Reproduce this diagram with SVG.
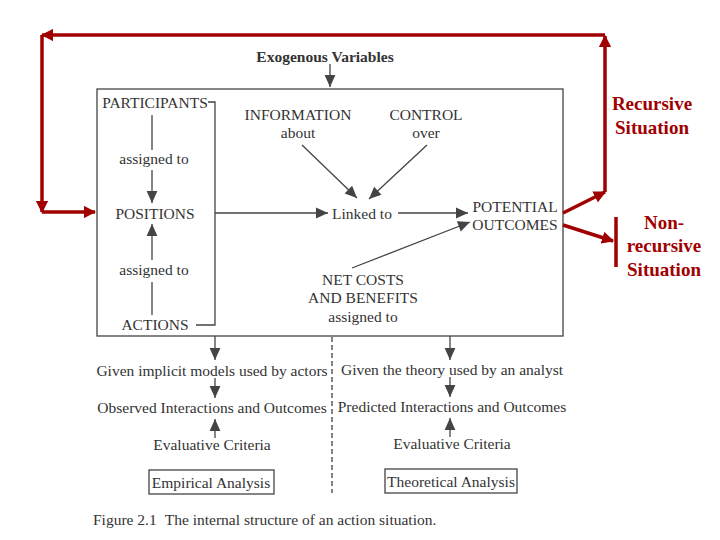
<svg xmlns="http://www.w3.org/2000/svg" width="720" height="540" viewBox="0 0 720 540">
<style>
.t{font-family:"Liberation Serif","Times New Roman",serif;font-size:15.5px;fill:#333;text-anchor:middle}
.b{font-weight:bold}
.r{font-family:"Liberation Serif","Times New Roman",serif;font-size:19px;font-weight:bold;fill:#a00000;text-anchor:middle}
.ln{stroke:#444;stroke-width:1.3;fill:none}
.rd{stroke:#a00000;stroke-width:3.5;fill:none}
</style>
<defs>
<marker id="ahL" viewBox="0 0 10 10" refX="10" refY="5" markerWidth="18" markerHeight="12" markerUnits="userSpaceOnUse" orient="auto"><path d="M0,0.5 L10,5 L0,9.5 z" fill="#444"/></marker>
<marker id="ra" viewBox="0 0 10 10" refX="9" refY="5" markerWidth="3.5" markerHeight="3.5" orient="auto"><path d="M0,0 L10,5 L0,10 z" fill="#a00000"/></marker>
</defs>
<rect width="720" height="540" fill="#fff"/>
<g id="frame"><rect x="97" y="89" width="466" height="247" class="ln"/></g>
<g id="exogenous"><text x="325" y="62" class="t b">Exogenous Variables</text></g>
<g id="participants"><text x="155" y="108" class="t">PARTICIPANTS</text></g>
<g id="positions"><text x="155" y="219" class="t">POSITIONS</text></g>
<g id="actions"><text x="155" y="330" class="t">ACTIONS</text></g>
<g id="assigned1"><text x="154" y="164" class="t">assigned to</text></g>
<g id="assigned2"><text x="154" y="275" class="t">assigned to</text></g>
<g id="information"><text x="298" y="120" class="t">INFORMATION</text><text x="298" y="138" class="t">about</text></g>
<g id="control"><text x="426" y="120" class="t">CONTROL</text><text x="426" y="138" class="t">over</text></g>
<g id="linked"><text x="362" y="219" class="t">Linked to</text></g>
<g id="outcomes"><text x="515" y="212" class="t">POTENTIAL</text><text x="515" y="230" class="t">OUTCOMES</text></g>
<g id="netcosts"><text x="363" y="285" class="t">NET COSTS</text><text x="363" y="303" class="t">AND BENEFITS</text><text x="363" y="322" class="t">assigned to</text></g>
<g id="implicit"><text x="212" y="376" class="t">Given implicit models used by actors</text></g>
<g id="observed"><text x="212" y="413" class="t">Observed Interactions and Outcomes</text></g>
<g id="evalL"><text x="212" y="450" class="t">Evaluative Criteria</text></g>
<g id="empirical"><rect x="149" y="470" width="125" height="24" class="ln"/><text x="211" y="488" class="t">Empirical Analysis</text></g>
<g id="theory"><text x="452" y="375" class="t">Given the theory used by an analyst</text></g>
<g id="predicted"><text x="452" y="412" class="t">Predicted Interactions and Outcomes</text></g>
<g id="evalR"><text x="452" y="449" class="t">Evaluative Criteria</text></g>
<g id="theoretical"><rect x="385" y="469" width="132" height="24" class="ln"/><text x="451" y="487" class="t">Theoretical Analysis</text></g>
<g id="caption"><text x="93" y="525" class="t" style="text-anchor:start">Figure 2.1<tspan dx="8">The internal structure of an action situation.</tspan></text></g>
<g id="recursive"><text x="652" y="110" class="r">Recursive</text><text x="652" y="134" class="r">Situation</text></g>
<g id="nonrecursive"><text x="664" y="229" class="r">Non-</text><text x="664" y="252" class="r">recursive</text><text x="664" y="276" class="r">Situation</text></g>
<g id="connectors">
<line x1="330" y1="64" x2="330" y2="87" class="ln" marker-end="url(#ahL)"/>
<polyline points="208,102 215,102 215,325 196,325" class="ln"/>
<line x1="152" y1="115" x2="152" y2="150" class="ln"/>
<line x1="152" y1="170" x2="152" y2="203" class="ln" marker-end="url(#ahL)"/>
<line x1="152" y1="315" x2="152" y2="282" class="ln"/>
<line x1="152" y1="260" x2="152" y2="224" class="ln" marker-end="url(#ahL)"/>
<line x1="215" y1="213" x2="328" y2="213" class="ln" marker-end="url(#ahL)"/>
<line x1="398" y1="213" x2="468" y2="213" class="ln" marker-end="url(#ahL)"/>
<line x1="302" y1="145" x2="357" y2="198" class="ln" marker-end="url(#ahL)"/>
<line x1="427" y1="145" x2="369" y2="199" class="ln" marker-end="url(#ahL)"/>
<line x1="352" y1="268" x2="470" y2="222" class="ln" marker-end="url(#ahL)"/>
<line x1="215" y1="336" x2="215" y2="360" class="ln" marker-end="url(#ahL)"/>
<line x1="215" y1="378" x2="215" y2="398" class="ln" marker-end="url(#ahL)"/>
<line x1="215" y1="438" x2="215" y2="419" class="ln" marker-end="url(#ahL)"/>
<line x1="450" y1="336" x2="450" y2="360" class="ln" marker-end="url(#ahL)"/>
<line x1="450" y1="377" x2="450" y2="397" class="ln" marker-end="url(#ahL)"/>
<line x1="450" y1="437" x2="450" y2="418" class="ln" marker-end="url(#ahL)"/>
<line x1="332" y1="337" x2="332" y2="493" class="ln" stroke-dasharray="5,3"/>
<line x1="563" y1="213" x2="605" y2="192" class="rd" marker-end="url(#ra)"/>
<line x1="605" y1="192" x2="605" y2="36" class="rd" marker-end="url(#ra)"/>
<line x1="605" y1="35" x2="42" y2="35" class="rd" marker-end="url(#ra)"/>
<line x1="42" y1="35" x2="42" y2="212" class="rd" marker-end="url(#ra)"/>
<line x1="42" y1="212" x2="95" y2="212" class="rd" marker-end="url(#ra)"/>
<line x1="563" y1="225" x2="613" y2="241" class="rd" marker-end="url(#ra)"/>
<line x1="616" y1="217" x2="616" y2="267" class="rd"/>
</g>
</svg>
